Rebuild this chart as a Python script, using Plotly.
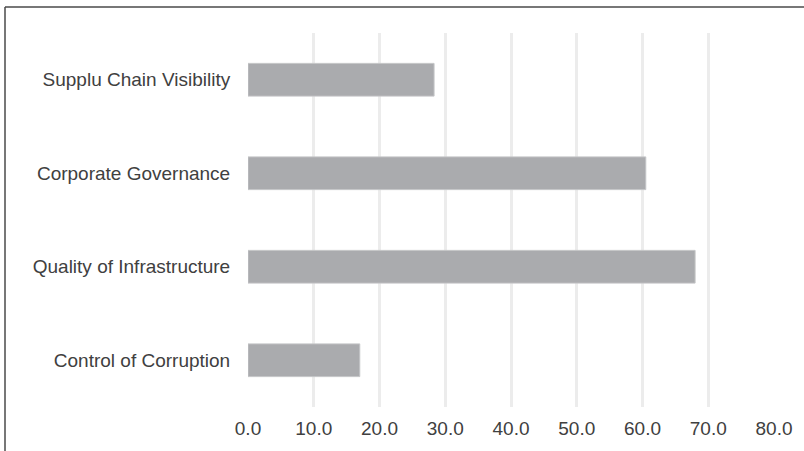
import plotly.graph_objects as go

categories = ["Control of Corruption", "Quality of Infrastructure",
              "Corporate Governance", "Supplu Chain Visibility"]
values = [17.0, 68.0, 60.5, 28.3]
tick_vals = [0, 10, 20, 30, 40, 50, 60, 70, 80]
tick_text = ["0.0", "10.0", "20.0", "30.0", "40.0", "50.0", "60.0", "70.0", "80.0"]

W, H = 804, 451
ml, mr, mt, mb = 248, 30, 33, 38
pw = W - ml - mr
ph = H - mt - mb

fig = go.Figure(go.Bar(
    x=values, y=categories, orientation="h",
    marker=dict(color="#aaabae", line=dict(color="#c4c5c7", width=1)),
    width=0.35,
))

# frame (left and top border lines)
fx0 = (5 - ml) / pw
fy1 = (H - mb - 6.5) / ph
fig.add_shape(type="line", xref="paper", yref="paper", x0=fx0, x1=fx0, y0=-0.2, y1=fy1,
              line=dict(color="#4a4a4a", width=1.5))
fig.add_shape(type="line", xref="paper", yref="paper", x0=fx0, x1=1.2, y0=fy1, y1=fy1,
              line=dict(color="#4a4a4a", width=1.5))

fig.update_layout(
    width=W, height=H,
    margin=dict(l=ml, r=mr, t=mt, b=mb),
    paper_bgcolor="white", plot_bgcolor="white",
    showlegend=False,
    font=dict(family="Liberation Sans, Arial, sans-serif", size=19, color="#404040"),
    xaxis=dict(range=[0, 80], tickvals=tick_vals, ticktext=tick_text,
               showgrid=True, gridcolor="#ececec", gridwidth=2.5,
               zeroline=False, showline=False,
               ticks="outside", ticklen=4, tickcolor="rgba(0,0,0,0)",
               tickfont=dict(size=19, color="#404040")),
    yaxis=dict(range=[-0.5, 3.5], showgrid=False, zeroline=False, showline=False,
               ticks="outside", ticklen=13, tickcolor="rgba(0,0,0,0)",
               tickfont=dict(size=19, color="#404040")),
)

fig.write_html("out.html")
